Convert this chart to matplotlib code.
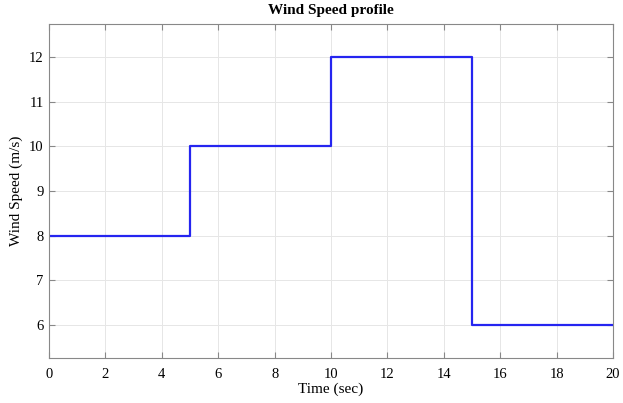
import matplotlib.pyplot as plt

plt.rcParams['font.family'] = ['Liberation Serif', 'DejaVu Serif']

time_s = [0, 5, 10, 15, 20]
wind_speed = [8, 10, 12, 6, 6]
x_ticks = [0, 2, 4, 6, 8, 10, 12, 14, 16, 18, 20]
y_ticks = [6, 7, 8, 9, 10, 11, 12]

fig = plt.figure(figsize=(6.23, 4.03), dpi=100)
ax = fig.add_axes([0.0787, 0.1117, 0.9053, 0.8287])

ax.plot(time_s, wind_speed, drawstyle='steps-post', color='#2525f0', linewidth=1.6)

ax.set_xlim(0, 20)
ax.set_ylim(5.25, 12.75)
ax.set_xticks(x_ticks)
ax.set_yticks(y_ticks)
ax.tick_params(direction='in', top=True, right=True, labelsize=10.5, length=4,
               color='#888888')
ax.tick_params(axis='x', pad=7)
ax.tick_params(axis='y', pad=4)
for sp in ax.spines.values():
    sp.set_color('#888888')
ax.grid(True, color='#e6e6e6', linewidth=0.7)

ax.set_xlabel("Time (sec)", fontsize=11, labelpad=1)
ax.set_ylabel("Wind Speed (m/s)", fontsize=11, labelpad=4)
ax.set_title("Wind Speed profile", fontsize=11, fontweight='bold', pad=7)

fig.savefig("out.png", dpi=100)
